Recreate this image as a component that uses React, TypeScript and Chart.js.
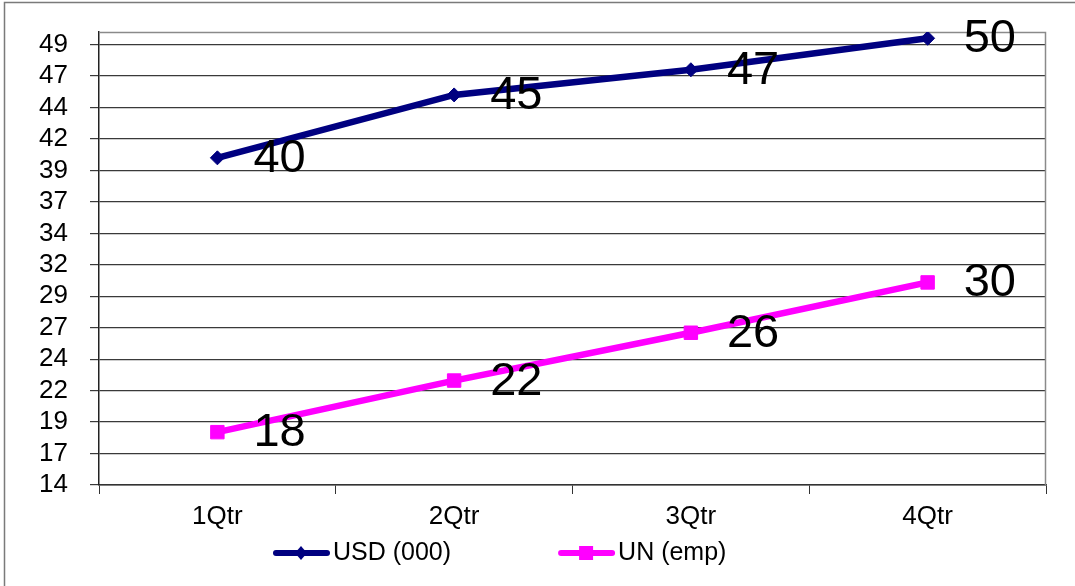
import React, { useEffect, useRef } from "react";
import { Chart, registerables } from "chart.js";

Chart.register(...registerables);

const categories = ["1Qtr", "2Qtr", "3Qtr", "4Qtr"];
const usdValues = [40, 45, 47, 49.5];
const unValues = [18.2, 22.3, 26.1, 30.1];
const seriesNames = ["USD (000)", "UN (emp)"];
const yMin = 14;
const yMax = 50;
const yStep = 2.5;

const FONT = "'Liberation Sans', Arial, sans-serif";
const NAVY = "#000080";
const MAGENTA = "#FF00FF";

const framePlugin = {
  id: "frame",
  beforeDraw(chart: any) {
    const ctx = chart.ctx;
    ctx.save();
    ctx.fillStyle = "#ffffff";
    ctx.fillRect(0, 0, chart.width, chart.height);
    ctx.strokeStyle = "#7a7a7a";
    ctx.lineWidth = 1.5;
    ctx.beginPath();
    ctx.moveTo(4.5, chart.height + 5);
    ctx.lineTo(4.5, 2.5);
    ctx.lineTo(chart.width + 5, 2.5);
    ctx.stroke();
    ctx.restore();
  },
  beforeDatasetsDraw(chart: any) {
    const { ctx, chartArea: a } = chart;
    ctx.save();
    ctx.strokeStyle = "#8a8a8a";
    ctx.lineWidth = 1.5;
    ctx.beginPath();
    ctx.moveTo(a.left, a.top + 0.5);
    ctx.lineTo(a.right - 0.5, a.top + 0.5);
    ctx.lineTo(a.right - 0.5, a.bottom);
    ctx.stroke();
    ctx.restore();
  },
};

const labelPlugin = {
  id: "valueLabels",
  afterDatasetsDraw(chart: any) {
    const ctx = chart.ctx;
    ctx.save();
    ctx.font = `47px ${FONT}`;
    ctx.fillStyle = "#000000";
    ctx.textAlign = "left";
    ctx.textBaseline = "middle";
    chart.data.datasets.forEach((ds: any, i: number) => {
      const meta = chart.getDatasetMeta(i);
      meta.data.forEach((pt: any, j: number) => {
        ctx.fillText(String(Math.round(ds.data[j])), pt.x + 36, pt.y + 1);
      });
    });
    ctx.restore();
  },
};

const legendPlugin = {
  id: "customLegend",
  afterDraw(chart: any) {
    const ctx = chart.ctx;
    ctx.save();
    ctx.font = `25px ${FONT}`;
    ctx.textBaseline = "middle";
    ctx.textAlign = "left";
    const y = 553;
    let x = 273;
    chart.data.datasets.forEach((ds: any) => {
      ctx.strokeStyle = ds.borderColor;
      ctx.lineWidth = 6;
      ctx.lineCap = "round";
      ctx.beginPath();
      ctx.moveTo(x + 3, y);
      ctx.lineTo(x + 54, y);
      ctx.stroke();
      ctx.fillStyle = ds.borderColor;
      const cx = x + 28;
      if (ds.pointStyle === "rect") {
        ctx.fillRect(cx - 7, y - 7, 14, 14);
      } else {
        ctx.beginPath();
        ctx.moveTo(cx, y - 7);
        ctx.lineTo(cx + 6, y);
        ctx.lineTo(cx, y + 7);
        ctx.lineTo(cx - 6, y);
        ctx.closePath();
        ctx.fill();
      }
      ctx.fillStyle = "#000000";
      ctx.fillText(ds.label, x + 60, y);
      x += 60 + ctx.measureText(ds.label).width + 107;
    });
    ctx.restore();
  },
};

export default function App() {
  const ref = useRef<HTMLCanvasElement | null>(null);
  useEffect(() => {
    if (!ref.current) return;
    const chart = new Chart(ref.current, {
      type: "line",
      data: {
        labels: categories,
        datasets: [
          {
            label: seriesNames[0],
            data: usdValues,
            borderColor: NAVY,
            backgroundColor: NAVY,
            borderWidth: 6.5,
            pointStyle: "rectRot",
            pointRadius: 7,
            pointBorderWidth: 1,
            tension: 0,
          },
          {
            label: seriesNames[1],
            data: unValues,
            borderColor: MAGENTA,
            backgroundColor: MAGENTA,
            borderWidth: 6.5,
            pointStyle: "rect",
            pointRadius: 9.5,
            pointBorderWidth: 1,
            tension: 0,
          },
        ],
      },
      options: {
        animation: false,
        responsive: false,
        devicePixelRatio: 1,
        layout: { padding: { left: 0, top: 32, right: 29, bottom: 0 } },
        plugins: {
          legend: { display: false },
          tooltip: { enabled: false },
          title: { display: false },
        },
        scales: {
          x: {
            type: "category",
            offset: true,
            grid: {
              offset: true,
              drawOnChartArea: false,
              drawTicks: true,
              tickLength: 9,
              color: "#333333",
              lineWidth: 1,
            },
            border: { color: "#333333", width: 1.5 },
            ticks: {
              color: "#000000",
              font: { family: FONT, size: 26 },
              padding: 7,
              maxRotation: 0,
            },
            afterFit(scale: any) {
              scale.height = 101;
              scale.paddingLeft = 0;
              scale.paddingRight = 0;
            },
          },
          y: {
            min: yMin,
            max: yMax,
            grid: {
              color: "#3a3a3a",
              lineWidth: 1.2,
              tickLength: 9,
              drawTicks: true,
            },
            border: { color: "#222222", width: 1.5 },
            ticks: {
              color: "#000000",
              font: { family: FONT, size: 26 },
              padding: 22,
              autoSkip: false,
              callback: (v: any) => String(Math.round(Number(v))),
            },
            afterBuildTicks(scale: any) {
              const t = [];
              for (let v = yMin; v <= yMax - 1; v += yStep) t.push({ value: v });
              scale.ticks = t;
            },
            afterFit(scale: any) {
              scale.width = 99;
              scale.paddingTop = 0;
              scale.paddingBottom = 0;
            },
          },
        },
      },
      plugins: [framePlugin, labelPlugin, legendPlugin],
    });
    return () => chart.destroy();
  }, []);
  return (
    <div style={{ position: "absolute", left: 0, top: 0, width: 1075, height: 586 }}>
      <canvas ref={ref} width={1075} height={586} style={{ display: "block" }} />
    </div>
  );
}
